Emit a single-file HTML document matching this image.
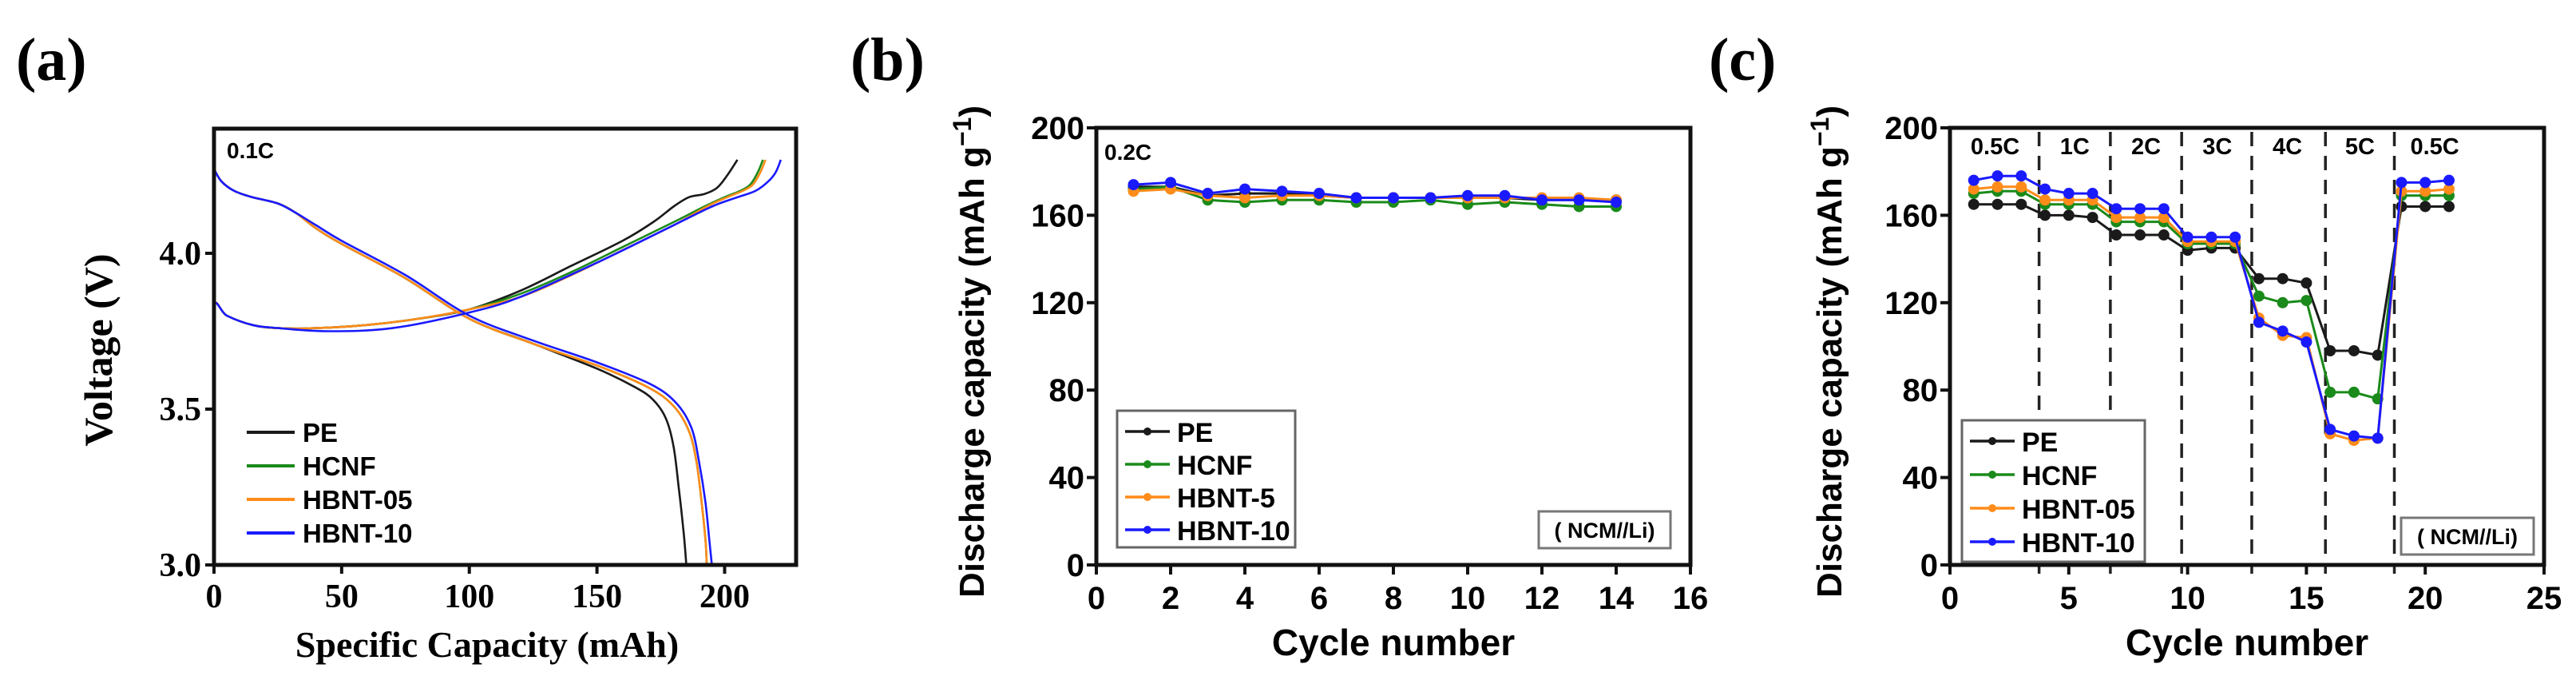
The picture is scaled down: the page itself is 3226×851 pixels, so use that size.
<!DOCTYPE html>
<html><head><meta charset="utf-8">
<style>
html,body{margin:0;padding:0;background:#fff;}
svg{display:block;}
.ser{font-family:"Liberation Serif",serif;font-weight:bold;}
.sans{font-family:"Liberation Sans",sans-serif;font-weight:bold;}
</style></head>
<body>
<svg id="fig" width="3226" height="851" viewBox="0 0 3226 851" xmlns="http://www.w3.org/2000/svg">
  <text x="20" y="100" class="ser" font-size="76">(a)</text>
  <text x="1065" y="100" class="ser" font-size="76">(b)</text>
  <text x="2140" y="100" class="ser" font-size="76">(c)</text>
  <g id="pa"></g>
  <g id="pb"></g>
  <g id="pc"></g>
</svg>
<script>
// ---------- Panel (a) data ----------
const aSeries = ["PE","HCNF","HBNT-05","HBNT-10"];
const aDisCap_PE = [0,3,8,15,25,32,40,50,75,100,125,150,165,172,177,180,182,184,185];
const aDisV_PE   = [4.27,4.23,4.2,4.18,4.16,4.13,4.08,4.03,3.92,3.79,3.71,3.63,3.57,3.53,3.47,3.38,3.25,3.1,3.0];
const aDisCap_HCNF = [0,3,8,15,25,32,40,50,75,100,125,150,170,180,186,189,191,192.5,193];
const aDisV_HCNF   = [4.27,4.23,4.2,4.18,4.16,4.13,4.08,4.03,3.92,3.79,3.71,3.64,3.57,3.51,3.43,3.33,3.2,3.08,3.0];
const aDisCap_H05 = [0,3,8,15,25,32,40,50,75,100,125,150,170,180,186,189,191,192.5,193];
const aDisV_H05   = [4.27,4.23,4.2,4.18,4.16,4.13,4.08,4.03,3.92,3.79,3.71,3.64,3.57,3.51,3.43,3.33,3.2,3.08,3.0];
const aDisCap_H10 = [0,3,8,15,25,32,40,50,75,100,125,150,171,181,187,190,192.5,194,195];
const aDisV_H10   = [4.27,4.23,4.2,4.18,4.16,4.13,4.09,4.04,3.93,3.80,3.72,3.65,3.58,3.52,3.44,3.33,3.2,3.08,3.0];
const aChgCap_PE = [0,0,5,15,25,40,60,80,100,120,140,160,172,180,186,192,197,201,205];
const aChgV_PE   = [3.6,3.83,3.8,3.77,3.76,3.76,3.77,3.79,3.82,3.88,3.96,4.04,4.1,4.15,4.18,4.19,4.21,4.25,4.30];
const aChgCap_HCNF = [0,0,5,15,25,40,60,80,100,120,140,160,180,192,200,206,210,213,215];
const aChgV_HCNF   = [3.6,3.83,3.8,3.77,3.76,3.76,3.77,3.79,3.82,3.87,3.94,4.02,4.1,4.15,4.18,4.2,4.22,4.26,4.30];
const aChgCap_H05 = [0,0,5,15,25,40,60,80,100,120,140,160,180,193,201,207,211,214,216];
const aChgV_H05   = [3.58,3.83,3.8,3.77,3.76,3.76,3.77,3.79,3.82,3.86,3.93,4.01,4.09,4.15,4.18,4.2,4.22,4.26,4.30];
const aChgCap_H10 = [0,0,5,15,25,45,70,100,120,150,180,195,205,212,217,220,222];
const aChgV_H10   = [3.6,3.83,3.8,3.77,3.76,3.75,3.76,3.81,3.86,3.97,4.09,4.15,4.18,4.2,4.23,4.26,4.30];
const aXTicks = [0,50,100,150,200];
const aYTicks = [3.0,3.5,4.0];
const aYTickLabels = ["3.0","3.5","4.0"];

// ---------- Panel (b) data ----------
const bCycles = [1,2,3,4,5,6,7,8,9,10,11,12,13,14];
const bPE   = [173,173,169,170,170,169,168,168,168,168,168,167,167,167];
const bHCNF = [172,173,167,166,167,167,166,166,167,165,166,165,164,164];
const bH5   = [171,172,169,168,169,169,168,168,168,168,168,168,168,167];
const bH10  = [174,175,170,172,171,170,168,168,168,169,169,167,167,166];
const bXTicks = [0,2,4,6,8,10,12,14,16];
const bYTicks = [0,40,80,120,160,200];

// ---------- Panel (c) data ----------
const cCycles = [1,2,3,4,5,6,7,8,9,10,11,12,13,14,15,16,17,18,19,20,21];
const cPE   = [165,165,165,160,160,159,151,151,151,144,145,145,131,131,129,98,98,96,164,164,164];
const cHCNF = [170,171,171,165,165,165,157,157,157,147,147,147,123,120,121,79,79,76,169,169,169];
const cH05  = [172,173,173,167,167,167,159,159,159,148,148,148,113,105,104,60,57,58,171,171,172];
const cH10  = [176,178,178,172,170,170,163,163,163,150,150,150,111,107,102,62,59,58,175,175,176];
const cDividers = [3.75,6.75,9.75,12.7,15.8,18.7];
const cRateLabels = ["0.5C","1C","2C","3C","4C","5C","0.5C"];
const cRateCenters = [1.9,5.25,8.25,11.25,14.2,17.25,20.4];
const cXTicks = [0,5,10,15,20,25];
const cYTicks = [0,40,80,120,160,200];

const NS="http://www.w3.org/2000/svg";
function mk(parent,tag,attrs,text){const e=document.createElementNS(NS,tag);for(const k in attrs)e.setAttribute(k,attrs[k]);if(text!==undefined)e.textContent=text;parent.appendChild(e);return e;}
function scale(d0,d1,r0,r1){return v=>r0+(v-d0)*(r1-r0)/(d1-d0);}
function smoothPath(P){
  let d='M'+P[0][0].toFixed(1)+','+P[0][1].toFixed(1);
  for(let i=0;i<P.length-1;i++){
    const p0=P[Math.max(i-1,0)],p1=P[i],p2=P[i+1],p3=P[Math.min(i+2,P.length-1)];
    const c1=[p1[0]+(p2[0]-p0[0])/6,p1[1]+(p2[1]-p0[1])/6];
    const c2=[p2[0]-(p3[0]-p1[0])/6,p2[1]-(p3[1]-p1[1])/6];
    d+=' C'+c1[0].toFixed(1)+','+c1[1].toFixed(1)+' '+c2[0].toFixed(1)+','+c2[1].toFixed(1)+' '+p2[0].toFixed(1)+','+p2[1].toFixed(1);
  }
  return d;
}

const COLORS={PE:"#1a1a1a",HCNF:"#1a8a1a",O:"#ff8c1a",B:"#1a1aff"};

// ---------- Draw panel (a) ----------
(function(){
  const g=document.getElementById('pa');
  const X=scale(0,228,268,997), Y=scale(3.0,4.4,707,161);
  const series=[
    [aDisCap_PE,aDisV_PE,COLORS.PE,'discharge-pe'],[aChgCap_PE,aChgV_PE,COLORS.PE,'charge-pe'],
    [aDisCap_HCNF,aDisV_HCNF,COLORS.HCNF,'discharge-hcnf'],[aChgCap_HCNF,aChgV_HCNF,COLORS.HCNF,'charge-hcnf'],
    [aDisCap_H05,aDisV_H05,COLORS.O,'discharge-hbnt-05'],[aChgCap_H05,aChgV_H05,COLORS.O,'charge-hbnt-05'],
    [aDisCap_H10,aDisV_H10,COLORS.B,'discharge-hbnt-10'],[aChgCap_H10,aChgV_H10,COLORS.B,'charge-hbnt-10']];
  series.forEach(s=>{
    const P=s[0].map((c,i)=>[X(c),Y(s[1][i])]);
    const p=mk(g,'path',{d:smoothPath(P),fill:'none',stroke:s[2],'stroke-width':2.6,'stroke-linejoin':'round'});
    
    
  });
  const box=mk(g,'rect',{x:268,y:161,width:729,height:546,fill:'none',stroke:'#111','stroke-width':5});
  
  
  aXTicks.forEach(t=>{
    mk(g,'line',{x1:X(t),y1:707,x2:X(t),y2:718,stroke:'#111','stroke-width':4});
    const tx=mk(g,'text',{x:X(t),y:760,'text-anchor':'middle','font-size':42,class:'ser'},String(t));
    
    
  });
  aYTicks.forEach((t,i)=>{
    mk(g,'line',{x1:257,y1:Y(t),x2:268,y2:Y(t),stroke:'#111','stroke-width':4});
    const tx=mk(g,'text',{x:252,y:Y(t)+14,'text-anchor':'end','font-size':42,class:'ser'},aYTickLabels[i]);
    
    
  });
  const xt=mk(g,'text',{x:610,y:822,'text-anchor':'middle','font-size':46,class:'ser'},'Specific Capacity (mAh)');
  
  
  const yt=mk(g,'text',{x:0,y:0,'text-anchor':'middle','font-size':50,class:'ser',transform:'translate(140,438) rotate(-90)'},'Voltage (V)');
  
  
  const rl=mk(g,'text',{x:284,y:198,'font-size':28,class:'sans'},'0.1C');
  
  
  const lc=[COLORS.PE,COLORS.HCNF,COLORS.O,COLORS.B];
  aSeries.forEach((n,i)=>{
    const y=541+i*42;
    mk(g,'line',{x1:309,y1:y,x2:369,y2:y,stroke:lc[i],'stroke-width':4});
    const t=mk(g,'text',{x:379,y:y+12,'font-size':33,class:'sans'},n);
    
    
  });
})();

// ---------- shared drawer for b/c ----------
function drawCyc(gid,opt){
  const g=document.getElementById(gid);
  const X=scale(0,opt.xmax,opt.x0,opt.x1), Y=scale(0,200,707,160);
  if(opt.dividers){
    opt.dividers.forEach(d=>{
      const l=mk(g,'line',{x1:X(d),y1:165,x2:X(d),y2:718,stroke:'#222','stroke-width':3.5,'stroke-dasharray':'18,12'});
      
      
    });
    opt.rates.forEach((r,i)=>{
      const t=mk(g,'text',{x:X(opt.rateX[i]),y:193,'text-anchor':'middle','font-size':29,class:'sans'},r);
      
      
    });
  }
  opt.series.forEach(s=>{
    const pts=opt.xs.map((c,i)=>X(c).toFixed(1)+','+Y(s.v[i]).toFixed(1)).join(' ');
    const p=mk(g,'polyline',{points:pts,fill:'none',stroke:s.c,'stroke-width':3});
    
    
    opt.xs.forEach((c,i)=>{
      const m=mk(g,'circle',{cx:X(c),cy:Y(s.v[i]),r:6,fill:s.c,stroke:s.c,'stroke-width':2});
      
      
    });
  });
  const box=mk(g,'rect',{x:opt.x0,y:160,width:opt.x1-opt.x0,height:547,fill:'none',stroke:'#111','stroke-width':5});
  
  
  opt.xticks.forEach(t=>{
    mk(g,'line',{x1:X(t),y1:707,x2:X(t),y2:719,stroke:'#111','stroke-width':4});
    const tx=mk(g,'text',{x:X(t),y:762,'text-anchor':'middle','font-size':40,class:'sans'},String(t));
    
    
  });
  opt.yticks.forEach(t=>{
    mk(g,'line',{x1:opt.x0-12,y1:Y(t),x2:opt.x0,y2:Y(t),stroke:'#111','stroke-width':4});
    const tx=mk(g,'text',{x:opt.x0-15,y:Y(t)+14,'text-anchor':'end','font-size':40,class:'sans'},String(t));
    
    
  });
  const xt=mk(g,'text',{x:(opt.x0+opt.x1)/2,y:820,'text-anchor':'middle','font-size':46,class:'sans'},'Cycle number');
  
  
  const yt=mk(g,'text',{x:0,y:0,'text-anchor':'middle','font-size':44,class:'sans',transform:'translate('+opt.ytx+',440) rotate(-90)'});
  
  
  yt.appendChild(document.createTextNode('Discharge capacity (mAh g'));
  mk(yt,'tspan',{dy:-16,'font-size':32},'\u22121');
  mk(yt,'tspan',{dy:16},')');
  const lb=mk(g,'rect',{x:opt.leg.x,y:opt.leg.y,width:opt.leg.w,height:opt.leg.h,fill:'#fff',stroke:'#666','stroke-width':3});
  
  
  opt.series.forEach((s,i)=>{
    const y=opt.leg.y+26+i*opt.leg.dy;
    mk(g,'line',{x1:opt.leg.x+10,y1:y,x2:opt.leg.x+66,y2:y,stroke:s.c,'stroke-width':3.5});
    mk(g,'circle',{cx:opt.leg.x+38,cy:y,r:5,fill:s.c});
    const t=mk(g,'text',{x:opt.leg.x+75,y:y+13,'font-size':34,class:'sans'},s.n);
    
    
  });
  const nb=mk(g,'rect',{x:opt.ncm.x,y:opt.ncm.y,width:opt.ncm.w,height:46,fill:'#fff',stroke:'#777','stroke-width':3});
  
  
  const nt=mk(g,'text',{x:opt.ncm.x+opt.ncm.w/2,y:opt.ncm.y+33,'text-anchor':'middle','font-size':27,class:'sans'},'( NCM//Li)');
  
  
  if(opt.rateLabel){
    const t=mk(g,'text',{x:opt.x0+10,y:200,'font-size':28,class:'sans'},opt.rateLabel);
    
    
  }
}

drawCyc('pb',{xmax:16,x0:1373,x1:2117,xs:bCycles,xticks:bXTicks,yticks:bYTicks,ytx:1232,
  series:[{n:'PE',v:bPE,c:COLORS.PE},{n:'HCNF',v:bHCNF,c:COLORS.HCNF},{n:'HBNT-5',v:bH5,c:COLORS.O},{n:'HBNT-10',v:bH10,c:COLORS.B}],
  leg:{x:1399,y:514,w:223,h:171,dy:41},ncm:{x:1927,y:640,w:165},rateLabel:'0.2C'});

drawCyc('pc',{xmax:25,x0:2442,x1:3186,xs:cCycles,xticks:cXTicks,yticks:cYTicks,ytx:2306,
  dividers:cDividers,rates:cRateLabels,rateX:cRateCenters,
  series:[{n:'PE',v:cPE,c:COLORS.PE},{n:'HCNF',v:cHCNF,c:COLORS.HCNF},{n:'HBNT-05',v:cH05,c:COLORS.O},{n:'HBNT-10',v:cH10,c:COLORS.B}],
  leg:{x:2457,y:526,w:229,h:177,dy:42},ncm:{x:3007,y:648,w:166}});
</script>
</body></html>
